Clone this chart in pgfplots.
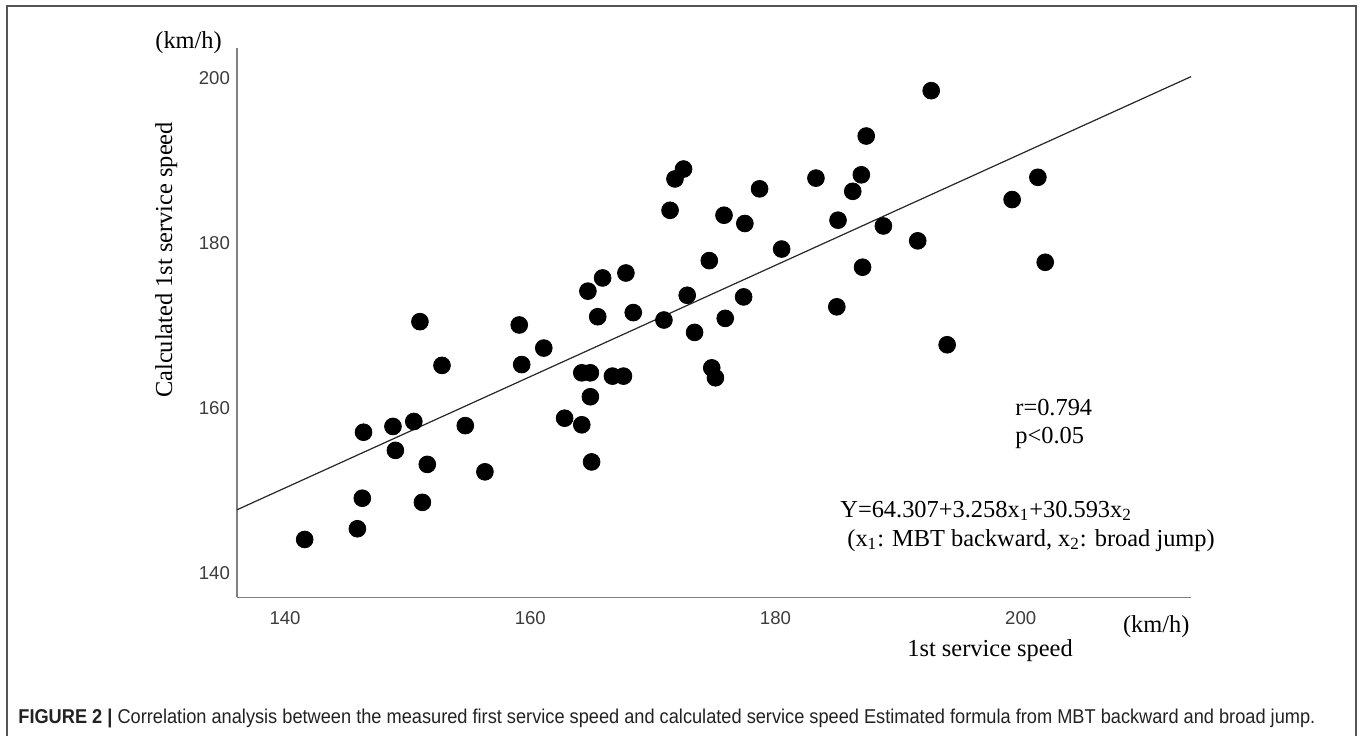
\documentclass[border=0pt]{standalone}
\usepackage{fontspec}
\setmainfont{Liberation Serif}
\newfontfamily\arialfont{Liberation Sans}
\usepackage{graphicx}
\usepackage{pgfplots}
\pgfplotsset{compat=1.18}
\definecolor{axgray}{HTML}{808080}
\definecolor{ticklab}{HTML}{3C3C3C}
\definecolor{linegray}{HTML}{262626}
\definecolor{boxgray}{HTML}{555555}
\definecolor{captext}{HTML}{222222}
\newcommand\serifsize{\fontsize{12.2pt}{14pt}\selectfont}
\begin{document}
\begin{tikzpicture}
\useasboundingbox (0,0) rectangle (680pt,368pt);
\draw[boxgray, line width=1pt] (3.65pt,0pt) -- (3.65pt,364.85pt) -- (678pt,364.85pt) -- (678pt,0pt);
\begin{axis}[
  at={(118.5pt,69.35pt)}, anchor=south west,
  scale only axis, width=477pt, height=274.65pt,
  xmin=136.08, xmax=213.89, ymin=137.09, ymax=203.67,
  axis x line=bottom, axis y line=left,
  axis line style={-, draw=axgray, line width=0.75pt},
  xtick={140,160,180,200}, ytick={140,160,180,200},
  major tick length=0pt,
  tick label style={font=\arialfont\fontsize{9.3pt}{11pt}\selectfont, text=ticklab},
  xticklabel style={yshift=-3.5pt},
  /pgf/number format/assume math mode=true,
  clip=false,
]
\addplot[only marks, mark=*, mark size=4.2pt, mark options={fill=black, draw=none}] coordinates {
(141.6,144.1) (145.9,145.4) (146.3,149.1) (146.4,157.1) (148.8,157.8)
(149.0,154.9) (150.5,158.4) (151.2,148.6) (151.6,153.2) (152.8,165.2)
(154.7,157.9) (156.3,152.3) (159.3,165.3) (161.1,167.3) (162.8,158.8)
(151.0,170.5) (159.1,170.1) (164.2,158.0) (165.0,153.5) (164.9,161.4)
(164.2,164.3) (164.9,164.3) (166.7,163.9) (167.6,163.9) (165.5,171.1)
(164.7,174.2) (165.9,175.8) (167.8,176.4) (168.4,171.6) (170.9,170.7)
(172.8,173.7) (173.4,169.2) (174.8,164.9) (175.1,163.7) (174.6,177.9)
(175.9,170.9) (177.4,173.5) (171.4,184.0) (171.8,187.8) (172.5,189.0)
(175.8,183.4) (177.5,182.4) (178.7,186.6) (180.5,179.3) (183.3,187.9)
(185.0,172.3) (185.1,182.8) (186.3,186.3) (187.0,188.3) (187.4,193.0)
(187.1,177.1) (188.8,182.1) (191.6,180.3) (192.7,198.5) (194.0,167.7)
(199.3,185.3) (201.4,188.0) (202.0,177.7)
};
\addplot[no marks, draw=linegray, line width=0.6pt] coordinates {(136.08,147.7) (213.89,200.2)};
\end{axis}
\node[anchor=base west, inner sep=0, font=\serifsize] at (77.5pt,343.55pt) {(km/h)};
\node[anchor=base, inner sep=0, rotate=90, font=\serifsize] at (86pt,238pt) {Calculated 1st service speed};
\node[anchor=base west, inner sep=0, font=\serifsize] at (453.5pt,40pt) {1st service speed};
\node[anchor=base west, inner sep=0, font=\serifsize] at (561.35pt,51.85pt) {(km/h)};
\node[anchor=base west, inner sep=0, font=\serifsize] at (507.5pt,160.5pt) {r=0.794};
\node[anchor=base west, inner sep=0, font=\serifsize] at (507.5pt,146.35pt) {p<0.05};
\node[anchor=base west, inner sep=0, font=\serifsize] at (420pt,109.5pt) {Y=64.307+3.258x\textsubscript{1}+30.593x\textsubscript{2}};
\node[anchor=base west, inner sep=0, font=\serifsize] at (423.5pt,95pt) {(x\textsubscript{1}: MBT backward, x\textsubscript{2}: broad jump)};
\node[anchor=base west, inner sep=0, text=captext] at (9pt,6.5pt) {\resizebox{648.5pt}{\height}{\arialfont\fontsize{10pt}{12pt}\selectfont\textbf{FIGURE 2 |} Correlation analysis between the measured first service speed and calculated service speed Estimated formula from MBT backward and broad jump.}};
\end{tikzpicture}
\end{document}
